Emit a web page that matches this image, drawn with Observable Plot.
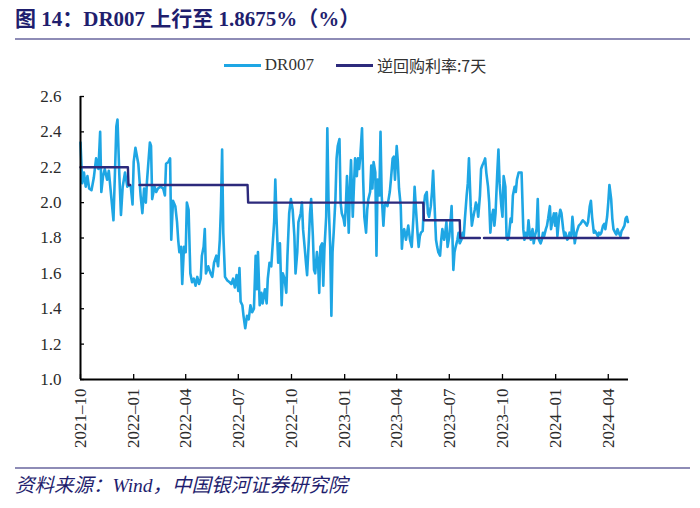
<!DOCTYPE html>
<html><head><meta charset="utf-8">
<script src="https://cdn.jsdelivr.net/npm/d3@7"></script>
<script src="https://cdn.jsdelivr.net/npm/@observablehq/plot@0.6"></script>
<style>
body{margin:0;background:#fff;width:700px;overflow:hidden;}
#title{margin:0 10px 0 15px;height:40px;box-sizing:border-box;border-bottom:2px solid #8e8cb6;font:bold 21px "Liberation Serif","Noto Sans CJK SC",serif;color:#1f1e6e;line-height:38px;white-space:nowrap;}
#legend{height:40px;box-sizing:border-box;padding-top:10px;padding-left:10px;display:flex;justify-content:center;align-items:center;font-size:16px;color:#333;}
#legend .item{display:flex;align-items:center;margin:0 11px;}
#legend .sw{display:inline-block;width:37px;height:3px;margin-right:4px;}
#legend .t1{font-family:"Liberation Serif",serif;font-size:17px;}
#legend .t2{font-family:"Noto Sans CJK SC",sans-serif;font-size:16px;}
#chart{height:385px;}
#source{margin:2px 10px 0 15px;border-top:2px solid #8e8cb6;height:38px;line-height:36px;font:italic 19.5px "Liberation Serif","Noto Sans CJK SC",serif;color:#1f1e6e;white-space:nowrap;}
</style></head>
<body>
<div id="title">图 14：DR007 上行至 1.8675%（%）</div>
<div id="legend"></div>
<div id="chart"></div>
<div id="source">资料来源：Wind，中国银河证券研究院</div>
<script>
// DR007 (%)
const dr007 = [
["2021-10-01",2.34],["2021-10-04",2.11],["2021-10-07",2.17],["2021-10-10",2.09],["2021-10-13",2.15],["2021-10-16",2.08],["2021-10-20",2.07],["2021-10-24",2.14],["2021-10-28",2.25],
["2021-11-01",2.19],["2021-11-04",2.40],["2021-11-06",2.06],["2021-11-09",2.15],["2021-11-12",2.19],["2021-11-16",2.13],["2021-11-19",2.18],["2021-11-23",2.04],["2021-11-27",1.90],["2021-11-30",2.21],
["2021-12-02",2.43],["2021-12-04",2.47],["2021-12-07",2.17],["2021-12-10",1.93],["2021-12-13",2.09],["2021-12-17",2.17],["2021-12-21",2.09],["2021-12-24",2.10],["2021-12-27",2.09],["2021-12-30",1.99],
["2022-01-01",2.23],["2022-01-04",2.31],["2022-01-09",2.22],["2022-01-13",2.04],["2022-01-16",1.94],["2022-01-19",2.08],["2022-01-22",2.00],["2022-01-24",2.12],["2022-01-29",2.34],["2022-01-31",2.32],
["2022-02-02",2.02],["2022-02-06",2.09],["2022-02-09",2.06],["2022-02-12",2.08],["2022-02-16",2.09],["2022-02-21",2.08],["2022-02-24",2.04],["2022-02-26",2.22],
["2022-03-02",2.23],["2022-03-05",2.25],["2022-03-07",1.79],["2022-03-10",2.01],["2022-03-14",1.98],["2022-03-17",1.89],["2022-03-19",1.79],["2022-03-21",1.72],["2022-03-24",1.75],["2022-03-26",1.54],["2022-03-29",1.75],
["2022-04-01",1.72],["2022-04-03",2.00],["2022-04-06",1.96],["2022-04-09",1.60],["2022-04-12",1.55],["2022-04-15",1.57],["2022-04-18",1.53],["2022-04-21",1.58],["2022-04-24",1.54],["2022-04-27",1.57],["2022-04-29",1.70],
["2022-05-02",1.75],["2022-05-04",1.85],["2022-05-06",1.60],["2022-05-10",1.64],["2022-05-14",1.60],["2022-05-17",1.58],["2022-05-20",1.66],["2022-05-24",1.70],["2022-05-27",1.64],["2022-05-30",1.79],
["2022-06-01",1.98],["2022-06-03",2.30],["2022-06-05",1.83],["2022-06-08",1.58],["2022-06-12",1.56],["2022-06-16",1.55],["2022-06-19",1.54],["2022-06-22",1.57],["2022-06-25",1.52],["2022-06-28",1.59],
["2022-07-01",1.50],["2022-07-03",1.63],["2022-07-05",1.44],["2022-07-08",1.42],["2022-07-10",1.36],["2022-07-13",1.29],["2022-07-16",1.36],["2022-07-19",1.34],["2022-07-22",1.42],["2022-07-25",1.38],["2022-07-28",1.40],["2022-07-31",1.70],
["2022-08-02",1.51],["2022-08-04",1.72],["2022-08-07",1.42],["2022-08-10",1.49],["2022-08-12",1.43],["2022-08-16",1.51],["2022-08-19",1.43],["2022-08-21",1.57],["2022-08-24",1.66],["2022-08-27",1.64],["2022-08-30",1.79],
["2022-09-01",1.89],["2022-09-03",2.13],["2022-09-05",1.92],["2022-09-08",1.66],["2022-09-11",1.77],["2022-09-14",1.42],["2022-09-16",1.60],["2022-09-19",1.57],["2022-09-22",1.49],["2022-09-24",1.70],["2022-09-27",1.94],["2022-09-30",2.02],
["2022-10-03",1.96],["2022-10-06",1.81],["2022-10-08",1.60],["2022-10-11",1.72],["2022-10-13",1.89],["2022-10-17",1.94],["2022-10-19",2.00],["2022-10-21",1.85],["2022-10-24",1.74],["2022-10-26",1.66],["2022-10-28",1.59],["2022-10-31",1.79],
["2022-11-02",1.94],["2022-11-04",2.02],["2022-11-07",1.81],["2022-11-09",1.62],["2022-11-11",1.60],["2022-11-14",1.72],["2022-11-16",1.66],["2022-11-18",1.49],["2022-11-20",1.75],["2022-11-23",1.77],["2022-11-25",1.53],["2022-11-27",1.74],["2022-11-30",1.92],
["2022-12-02",2.42],["2022-12-04",2.02],["2022-12-07",1.75],["2022-12-09",1.36],["2022-12-11",1.72],["2022-12-13",1.83],["2022-12-16",2.02],["2022-12-18",2.25],["2022-12-20",2.32],["2022-12-23",2.36],["2022-12-25",2.00],["2022-12-27",1.94],["2022-12-30",1.91],
["2023-01-01",1.87],["2023-01-03",1.98],["2023-01-05",2.15],["2023-01-08",1.83],["2023-01-10",2.08],["2023-01-12",2.24],["2023-01-15",1.92],["2023-01-17",2.09],["2023-01-19",2.25],["2023-01-22",2.15],["2023-01-24",2.25],["2023-01-26",2.19],["2023-01-28",2.26],["2023-01-31",2.42],
["2023-02-02",2.13],["2023-02-04",1.92],["2023-02-07",1.83],["2023-02-09",1.96],["2023-02-11",2.02],["2023-02-14",2.06],["2023-02-16",2.21],["2023-02-18",2.08],["2023-02-20",2.23],["2023-02-23",2.17],["2023-02-25",1.70],["2023-02-27",2.13],
["2023-03-02",2.04],["2023-03-04",2.40],["2023-03-06",2.04],["2023-03-09",1.87],["2023-03-11",1.98],["2023-03-13",2.00],["2023-03-16",1.98],["2023-03-18",2.02],["2023-03-20",2.06],["2023-03-22",2.13],["2023-03-25",2.25],["2023-03-27",2.26],["2023-03-29",2.13],
["2023-04-01",2.32],["2023-04-03",2.23],["2023-04-05",2.08],["2023-04-08",1.98],["2023-04-10",1.74],["2023-04-12",1.83],["2023-04-14",1.85],["2023-04-17",1.79],["2023-04-19",1.83],["2023-04-21",1.87],["2023-04-24",1.79],["2023-04-27",1.75],["2023-04-30",1.92],
["2023-05-02",2.09],["2023-05-04",1.98],["2023-05-07",1.83],["2023-05-09",1.75],["2023-05-11",1.81],["2023-05-13",1.83],["2023-05-16",1.84],["2023-05-18",1.98],["2023-05-20",2.04],["2023-05-23",2.06],["2023-05-25",1.94],["2023-05-27",1.92],["2023-05-30",1.98],
["2023-06-01",2.06],["2023-06-03",2.18],["2023-06-05",2.02],["2023-06-08",1.79],["2023-06-10",1.75],["2023-06-12",1.72],["2023-06-15",1.70],["2023-06-17",1.79],["2023-06-19",1.85],["2023-06-22",1.79],["2023-06-24",1.83],["2023-06-26",1.89],["2023-06-28",1.75],
["2023-07-01",1.81],["2023-07-03",1.89],["2023-07-05",1.98],["2023-07-08",1.62],["2023-07-10",1.72],["2023-07-12",1.75],["2023-07-15",1.79],["2023-07-17",1.83],["2023-07-19",1.77],["2023-07-22",1.79],["2023-07-24",1.83],["2023-07-26",1.81],["2023-07-28",1.91],["2023-07-31",2.04],
["2023-08-02",2.11],["2023-08-04",2.25],["2023-08-07",1.98],["2023-08-09",1.87],["2023-08-11",1.91],["2023-08-14",1.96],["2023-08-16",2.00],["2023-08-18",1.98],["2023-08-20",1.92],["2023-08-23",2.04],["2023-08-25",2.19],["2023-08-27",2.21],["2023-08-30",2.23],
["2023-09-01",2.25],["2023-09-03",2.17],["2023-09-06",2.09],["2023-09-08",2.00],["2023-09-10",1.83],["2023-09-12",1.91],["2023-09-15",1.96],["2023-09-17",1.87],["2023-09-19",1.94],["2023-09-22",2.17],["2023-09-24",2.30],["2023-09-26",2.11],["2023-09-29",1.98],
["2023-10-01",1.92],["2023-10-03",2.15],["2023-10-06",2.09],["2023-10-08",1.81],["2023-10-10",1.79],["2023-10-12",1.81],["2023-10-15",1.91],["2023-10-17",1.89],["2023-10-19",2.04],["2023-10-22",2.09],["2023-10-24",2.06],["2023-10-26",2.13],["2023-10-29",2.17],["2023-10-31",2.17],
["2023-11-03",2.17],["2023-11-06",1.85],["2023-11-08",1.79],["2023-11-10",1.83],["2023-11-13",1.81],["2023-11-15",1.90],["2023-11-17",1.83],["2023-11-19",1.79],["2023-11-22",1.85],["2023-11-24",1.77],["2023-11-26",1.81],["2023-11-29",1.85],
["2023-12-01",2.02],["2023-12-03",1.79],["2023-12-06",1.77],["2023-12-08",1.79],["2023-12-10",1.83],["2023-12-12",1.81],["2023-12-15",1.85],["2023-12-17",1.87],["2023-12-19",1.91],["2023-12-22",1.98],["2023-12-24",1.85],["2023-12-26",1.89],["2023-12-29",1.94],["2023-12-31",1.87],
["2024-01-02",1.94],["2024-01-04",1.81],["2024-01-07",1.92],["2024-01-09",1.96],["2024-01-11",1.94],["2024-01-14",1.85],["2024-01-16",1.81],["2024-01-18",1.83],["2024-01-21",1.79],["2024-01-23",1.80],["2024-01-25",1.83],["2024-01-28",1.81],["2024-01-30",1.92],
["2024-02-01",1.85],["2024-02-03",1.77],["2024-02-06",1.83],["2024-02-08",1.85],["2024-02-10",1.87],["2024-02-13",1.88],["2024-02-15",1.89],["2024-02-17",1.90],["2024-02-20",1.89],["2024-02-22",1.88],["2024-02-24",1.87],["2024-02-26",1.89],["2024-02-29",1.98],
["2024-03-02",2.01],["2024-03-04",1.92],["2024-03-07",1.83],["2024-03-09",1.84],["2024-03-11",1.83],["2024-03-14",1.81],["2024-03-16",1.83],["2024-03-18",1.82],["2024-03-20",1.83],["2024-03-23",1.87],["2024-03-25",1.88],["2024-03-27",1.85],["2024-03-30",1.92],
["2024-04-01",2.00],["2024-04-03",2.10],["2024-04-06",2.02],["2024-04-08",1.91],["2024-04-10",1.85],["2024-04-13",1.83],["2024-04-15",1.82],["2024-04-17",1.85],["2024-04-19",1.83],["2024-04-22",1.81],["2024-04-24",1.84],["2024-04-26",1.85],["2024-04-29",1.87],
["2024-05-01",1.91],["2024-05-03",1.92],["2024-05-05",1.89]
];
// 逆回购利率:7天 (%), null marks a gap in the series
const repo7d = [
["2021-10-01",2.2],["2021-12-22",2.2],["2021-12-23",2.1],["2021-12-26",2.1],["2021-12-30",null],
["2022-01-11",2.1],["2022-07-17",2.1],["2022-07-18",2.0],["2023-05-17",2.0],["2023-05-18",1.9],
["2023-07-19",1.9],["2023-07-20",1.8],["2023-08-23",1.8],["2023-08-26",null],["2023-08-30",1.8],["2024-05-06",1.8]
];
const seriesNames = ["DR007", "逆回购利率:7天"];
const seriesColors = ["#1ea6e4", "#2d2a7c"];
const xDomain = ["2021-10-01", "2024-05-06"];
const xTickLabels = ["2021-10","2022-01","2022-04","2022-07","2022-10","2023-01","2023-04","2023-07","2023-10","2024-01","2024-04"];
const yTicks = [1.0, 1.2, 1.4, 1.6, 1.8, 2.0, 2.2, 2.4, 2.6];

const parse = d3.utcParse("%Y-%m-%d");
const drData = dr007.map(([d, v]) => ({date: parse(d), value: v}));
const repoData = repo7d.map(([d, v]) => ({date: parse(d), value: v}));
const xTicks = xTickLabels.map(s => parse(s + "-01"));
const x0 = parse(xDomain[0]), x1 = parse(xDomain[1]);

const legend = document.getElementById("legend");
seriesNames.forEach((n, i) => {
  const it = document.createElement("span");
  it.className = "item";
  it.innerHTML = `<span class="sw" style="background:${seriesColors[i]}"></span><span class="${i === 0 ? "t1" : "t2"}">${n}</span>`;
  legend.appendChild(it);
});

const chart = Plot.plot({
  width: 700, height: 385,
  marginLeft: 80, marginRight: 72, marginTop: 16, marginBottom: 86,
  style: {fontFamily: '"Liberation Serif", serif', fontSize: "17px", color: "#2a2a2a", background: "#fff", overflow: "visible"},
  x: {type: "utc", domain: [x0, x1]},
  y: {domain: [yTicks[0], yTicks[yTicks.length - 1]]},
  marks: [
    Plot.axisY(yTicks, {tickSize: -4, tickPadding: 23, tickFormat: d3.format(".1f"), label: null, stroke: "#000", strokeWidth: 1.3}),
    Plot.axisX(xTicks, {tickSize: -5, tickPadding: 14, tickRotate: -90, tickFormat: d3.utcFormat("%Y\u2013%m"), label: null, stroke: "#000", strokeWidth: 1.3}),
    Plot.lineY(drData, {x: "date", y: "value", stroke: seriesColors[0], strokeWidth: 2.6, strokeLinejoin: "round"}),
    Plot.lineY(repoData, {x: "date", y: "value", stroke: seriesColors[1], strokeWidth: 2.4}),
    Plot.ruleX([x0], {stroke: "#000", strokeWidth: 2}),
    Plot.ruleY([yTicks[0]], {stroke: "#000", strokeWidth: 2})
  ]
});
document.getElementById("chart").appendChild(chart);
</script>
</body></html>
